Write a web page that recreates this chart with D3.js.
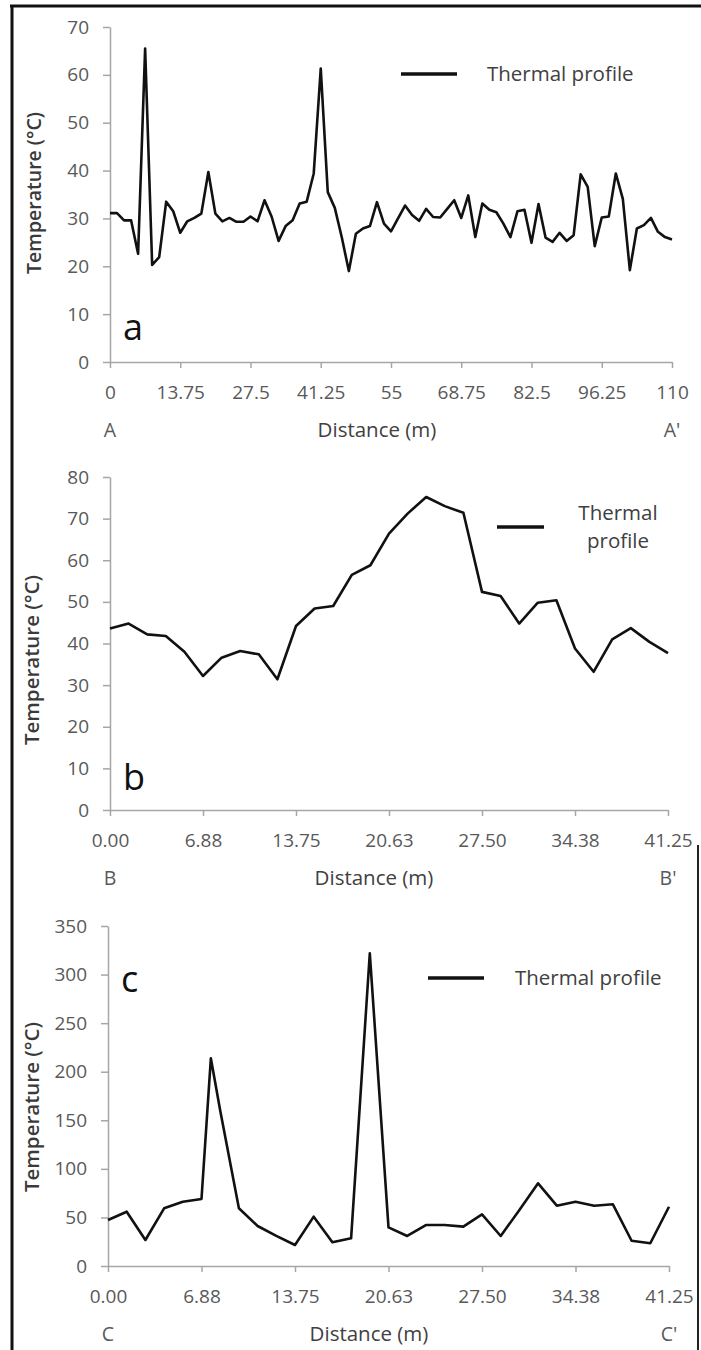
<!DOCTYPE html>
<html>
<head>
<meta charset="utf-8">
<script src="https://cdn.jsdelivr.net/npm/d3@7"></script>
<style>
	body { margin: 0; background: #fff; }
	text { font-family: "Open Sans", sans-serif; }
	.axis .domain, .axis line { stroke: #a6a6a6; stroke-width: 1.5; }
	.axis text { fill: #595959; font-size: 19px; }
	.profile { fill: none; stroke: #111; stroke-width: 2.6; stroke-linejoin: round; }
</style>
</head>
<body>
<script>
// Profile A-A' (110 m, samples every 1.375 m)
var distA = [0, 1.375, 2.75, 4.125, 5.5, 6.875, 8.25, 9.625, 11, 12.375,
	13.75, 15.125, 16.5, 17.875, 19.25, 20.625, 22, 23.375, 24.75, 26.125,
	27.5, 28.875, 30.25, 31.625, 33, 34.375, 35.75, 37.125, 38.5, 39.875,
	41.25, 42.625, 44, 45.375, 46.75, 48.125, 49.5, 50.875, 52.25, 53.625,
	55, 56.375, 57.75, 59.125, 60.5, 61.875, 63.25, 64.625, 66, 67.375,
	68.75, 70.125, 71.5, 72.875, 74.25, 75.625, 77, 78.375, 79.75, 81.125,
	82.5, 83.875, 85.25, 86.625, 88, 89.375, 90.75, 92.125, 93.5, 94.875,
	96.25, 97.625, 99, 100.375, 101.75, 103.125, 104.5, 105.875, 107.25, 108.625,
	110];
var tempA = [31.1, 31.1, 29.6, 29.6, 22.6, 65.5, 20.3, 21.9, 33.5, 31.5,
	27.0, 29.4, 30.1, 31.0, 39.7, 31.0, 29.4, 30.1, 29.3, 29.3,
	30.4, 29.4, 33.8, 30.4, 25.3, 28.4, 29.6, 33.1, 33.5, 39.4,
	61.3, 35.5, 32.2, 26.0, 19.0, 26.8, 27.9, 28.4, 33.4, 28.9,
	27.3, 30.0, 32.7, 30.7, 29.5, 32.0, 30.3, 30.2, 32.0, 33.8,
	30.1, 34.8, 26.1, 33.1, 31.8, 31.3, 28.9, 26.1, 31.5, 31.8,
	24.9, 33.0, 26.0, 25.1, 27.0, 25.3, 26.5, 39.2, 36.6, 24.2,
	30.2, 30.4, 39.4, 34.1, 19.2, 27.9, 28.6, 30.1, 27.2, 26.1,
	25.6];
var ticksA = [0, 13.75, 27.5, 41.25, 55, 68.75, 82.5, 96.25, 110];
var tickLabelsA = ["0", "13.75", "27.5", "41.25", "55", "68.75", "82.5", "96.25", "110"];

// Profile B-B'
var distB = [0, 1.375, 2.75, 4.125, 5.5, 6.875, 8.25, 9.625, 11, 12.375,
	13.75, 15.125, 16.5, 17.875, 19.25, 20.625, 22, 23.375, 24.75, 26.125,
	27.5, 28.875, 30.25, 31.625, 33, 34.375, 35.75, 37.125, 38.5, 39.875, 41.25];
var tempB = [43.6, 44.8, 42.2, 41.8, 38.0, 32.2, 36.6, 38.2, 37.4, 31.4,
	44.2, 48.4, 49.0, 56.5, 58.8, 66.4, 71.2, 75.2, 73.0, 71.4,
	52.4, 51.4, 44.8, 49.8, 50.4, 38.8, 33.2, 41.0, 43.7, 40.4, 37.7];

// Profile C-C'
var distC = [0, 1.375, 2.75, 4.125, 5.5, 6.875, 7.5625, 8.25, 9.625, 11, 12.375,
	13.75, 15.125, 16.5, 17.875, 19.25, 20.625, 22, 23.375, 24.75, 26.125,
	27.5, 28.875, 30.25, 31.625, 33, 34.375, 35.75, 37.125, 38.5, 39.875, 41.25];
var tempC = [47.4, 55.9, 26.8, 59.4, 66.2, 69.0, 213.8, 160, 59.4, 41.2, 31,
	21.6, 50.8, 24.4, 28.5, 321.9, 39.8, 30.9, 42.2, 42.2, 40.5,
	53.2, 30.9, 57.6, 85.1, 62.1, 66.2, 62.1, 63.5, 26.0, 23.4, 61.0];

var ticksBC = [0, 6.875, 13.75, 20.625, 27.5, 34.375, 41.25];
var tickLabelsBC = ["0.00", "6.88", "13.75", "20.63", "27.50", "34.38", "41.25"];

var svg = d3.select("body").append("svg")
	.attr("width", 701)
	.attr("height", 1350);

// frame
svg.append("line").attr("x1", 10).attr("x2", 701).attr("y1", 6).attr("y2", 6)
	.attr("stroke", "#111").attr("stroke-width", 3);
svg.append("line").attr("x1", 12).attr("x2", 12).attr("y1", 5).attr("y2", 1350)
	.attr("stroke", "#111").attr("stroke-width", 3);
svg.append("line").attr("x1", 698).attr("x2", 698).attr("y1", 845).attr("y2", 1350)
	.attr("stroke", "#222").attr("stroke-width", 2);

var panels = [
	{ dist: distA, temp: tempA, xMax: 110, yMax: 70, yStep: 10, ticks: ticksA, labels: tickLabelsA,
		left: 110, right: 672, top: 27, bottom: 362, letter: "a", letterY: 340,
		ends: ["A", "A'"], distX: 377, ylabX: 41, ylabY: 193, ylabSize: 19.5,
		legend: { x1: 401, x2: 457, y: 74, lines: ["Thermal profile"], tx: 487, ty: [81], anchor: "start" } },
	{ dist: distB, temp: tempB, xMax: 41.25, yMax: 80, yStep: 10, ticks: ticksBC, labels: tickLabelsBC,
		left: 110, right: 668, top: 477, bottom: 810, letter: "b", letterY: 790,
		ends: ["B", "B'"], distX: 374, ylabX: 39, ylabY: 660, ylabSize: 20.5,
		legend: { x1: 497, x2: 544, y: 527, lines: ["Thermal", "profile"], tx: 618, ty: [520, 548], anchor: "middle" } },
	{ dist: distC, temp: tempC, xMax: 41.25, yMax: 350, yStep: 50, ticks: ticksBC, labels: tickLabelsBC,
		left: 108, right: 669, top: 926, bottom: 1266, letter: "c", letterY: 992,
		ends: ["C", "C'"], distX: 369, ylabX: 39, ylabY: 1107, ylabSize: 20.5,
		legend: { x1: 428, x2: 484, y: 978, lines: ["Thermal profile"], tx: 515, ty: [985], anchor: "start" } }
];

panels.forEach(function (p) {
	var x = d3.scaleLinear().domain([0, p.xMax]).range([p.left, p.right]);
	var y = d3.scaleLinear().domain([0, p.yMax]).range([p.bottom, p.top]);
	var g = svg.append("g");

	var xAxis = d3.axisBottom(x)
		.tickValues(p.ticks)
		.tickFormat((d, i) => p.labels[i])
		.tickSizeInner(6)
		.tickSizeOuter(0)
		.tickPadding(18);

	var yAxis = d3.axisLeft(y)
		.tickValues(d3.range(0, p.yMax + 1, p.yStep))
		.tickSizeInner(7)
		.tickSizeOuter(0)
		.tickPadding(14);

	g.append("g")
		.attr("class", "axis")
		.attr("transform", "translate(0," + p.bottom + ")")
		.call(xAxis);

	g.append("g")
		.attr("class", "axis")
		.attr("transform", "translate(" + p.left + ",0)")
		.call(yAxis);

	var line = d3.line()
		.x((d, i) => x(p.dist[i]))
		.y(d => y(d));

	g.append("path")
		.datum(p.temp)
		.attr("class", "profile")
		.attr("d", line);

	// y title
	g.append("text")
		.attr("transform", "translate(" + p.ylabX + "," + p.ylabY + ") rotate(-90)")
		.attr("text-anchor", "middle")
		.style("font-size", p.ylabSize + "px")
		.style("font-weight", 600)
		.style("fill", "#3a3a3a")
		.text("Temperature (°C)");

	// x title and profile end labels
	var ly = p.bottom + 75;
	g.append("text")
		.attr("x", p.distX).attr("y", ly)
		.attr("text-anchor", "middle")
		.style("font-size", "20.5px")
		.style("fill", "#404040")
		.text("Distance (m)");
	g.append("text")
		.attr("x", p.left).attr("y", ly)
		.attr("text-anchor", "middle")
		.style("font-size", "19.5px")
		.style("fill", "#595959")
		.text(p.ends[0]);
	g.append("text")
		.attr("x", p.right).attr("y", ly)
		.attr("text-anchor", "middle")
		.style("font-size", "19.5px")
		.style("fill", "#595959")
		.text(p.ends[1]);

	// panel letter
	g.append("text")
		.attr("x", p.left + 13).attr("y", p.letterY)
		.style("font-size", "36px")
		.style("fill", "#111")
		.text(p.letter);

	// legend
	g.append("line")
		.attr("x1", p.legend.x1).attr("x2", p.legend.x2)
		.attr("y1", p.legend.y).attr("y2", p.legend.y)
		.attr("stroke", "#111")
		.attr("stroke-width", 3.5);
	p.legend.lines.forEach(function (t, i) {
		g.append("text")
			.attr("x", p.legend.tx).attr("y", p.legend.ty[i])
			.attr("text-anchor", p.legend.anchor)
			.style("font-size", "20.5px")
			.style("fill", "#404040")
			.text(t);
	});
});
</script>
</body>
</html>
